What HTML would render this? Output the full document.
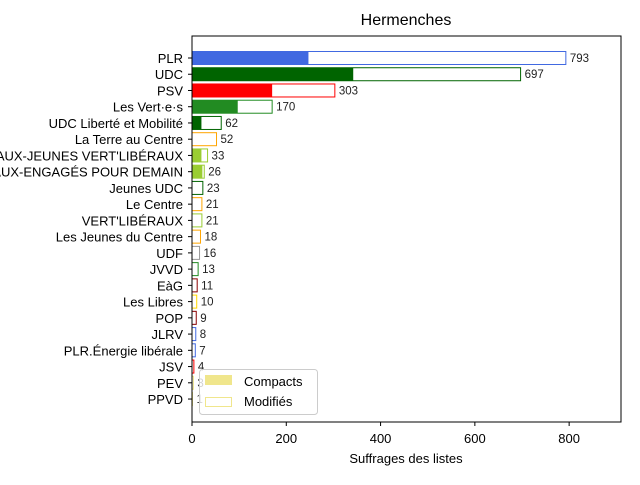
<!DOCTYPE html>
<html><head><meta charset="utf-8"><style>body{margin:0;background:#fff}svg{font-family:"Liberation Sans","DejaVu Sans",sans-serif}</style></head>
<body>
<svg id="c" width="640" height="480"></svg>
<script>
const parties=["PLR","UDC","PSV","Les Vert·e·s","UDC Liberté et Mobilité","La Terre au Centre","JEUNES VERT'LIBÉRAUX-JEUNES VERT'LIBÉRAUX","VERT'LIBÉRAUX-ENGAGÉS POUR DEMAIN","Jeunes UDC","Le Centre","VERT'LIBÉRAUX","Les Jeunes du Centre","UDF","JVVD","EàG","Les Libres","POP","JLRV","PLR.Énergie libérale","JSV","PEV","PPVD"];
const totals=[793,697,303,170,62,52,33,26,23,21,21,18,16,13,11,10,9,8,7,4,3,1];
const compacts=[247,342,170,97,20,0,20,22,0,0,0,0,0,0,0,0,0,0,0,0,0,0];
const colors=["#4169e1","#006400","#ff0000","#228b22","#006400","#ffa500","#9acd32","#9acd32","#006400","#ffa500","#9acd32","#ffa500","#999999","#228b22","#8b0000","#ffd700","#8b0000","#4169e1","#4169e1","#ff0000","#f0e68c","#f0e68c"];
const xticks=[0,200,400,600,800];
const NS="http://www.w3.org/2000/svg",svg=document.getElementById('c');
function mk(t,a,txt){const e=document.createElementNS(NS,t);for(const k in a)e.setAttribute(k,a[k]);if(txt!=null)e.textContent=txt;svg.appendChild(e);return e;}
const L=192,R=621,T=36,B=422,xmax=910;
const x=v=>L+v/xmax*(R-L);
const y0=58,dy=16.24;const y=i=>y0+i*dy;const bh=13;
let e=mk('text',{x:406,y:25,'font-size':16,'text-anchor':'middle'},'Hermenches');

parties.forEach((p,i)=>{
 let r=mk('rect',{x:x(0),y:y(i)-bh/2,width:x(totals[i])-x(0),height:bh,fill:'#fff',stroke:colors[i],'stroke-width':1});
 
 if(compacts[i]>0){let c=mk('rect',{x:x(0),y:y(i)-bh/2,width:x(compacts[i])-x(0),height:bh,fill:colors[i]});
 }
 let t=mk('text',{x:x(totals[i])+4,y:y(i)+4,'font-size':11.5,fill:'#222'},totals[i]);
 
 let l=mk('text',{x:183,y:y(i)+5,'font-size':13,'text-anchor':'end'},p);
 
 mk('line',{x1:188,x2:192,y1:y(i),y2:y(i),stroke:'#000'});
});
xticks.forEach(v=>{mk('line',{x1:x(v),x2:x(v),y1:B,y2:B+4,stroke:'#000'});
 let t=mk('text',{x:x(v),y:B+21,'font-size':13,'text-anchor':'middle'},v);
 });
mk('rect',{x:L,y:T,width:R-L,height:B-T,fill:'none',stroke:'#000','stroke-width':1});
e=mk('text',{x:406,y:463,'font-size':13,'text-anchor':'middle'},'Suffrages des listes');

e=mk('rect',{x:199.5,y:369.5,width:118,height:45,rx:3,fill:'#fff','fill-opacity':0.8,stroke:'#ccc'});

mk('rect',{x:205,y:375,width:27,height:10,fill:'#f0e68c'});
mk('rect',{x:205.5,y:397.5,width:26,height:9,fill:'#fff',stroke:'#f0e68c'});
e=mk('text',{x:244,y:386,'font-size':13},'Compacts');
e=mk('text',{x:244,y:406,'font-size':13},'Modifiés');
</script>
</body></html>
